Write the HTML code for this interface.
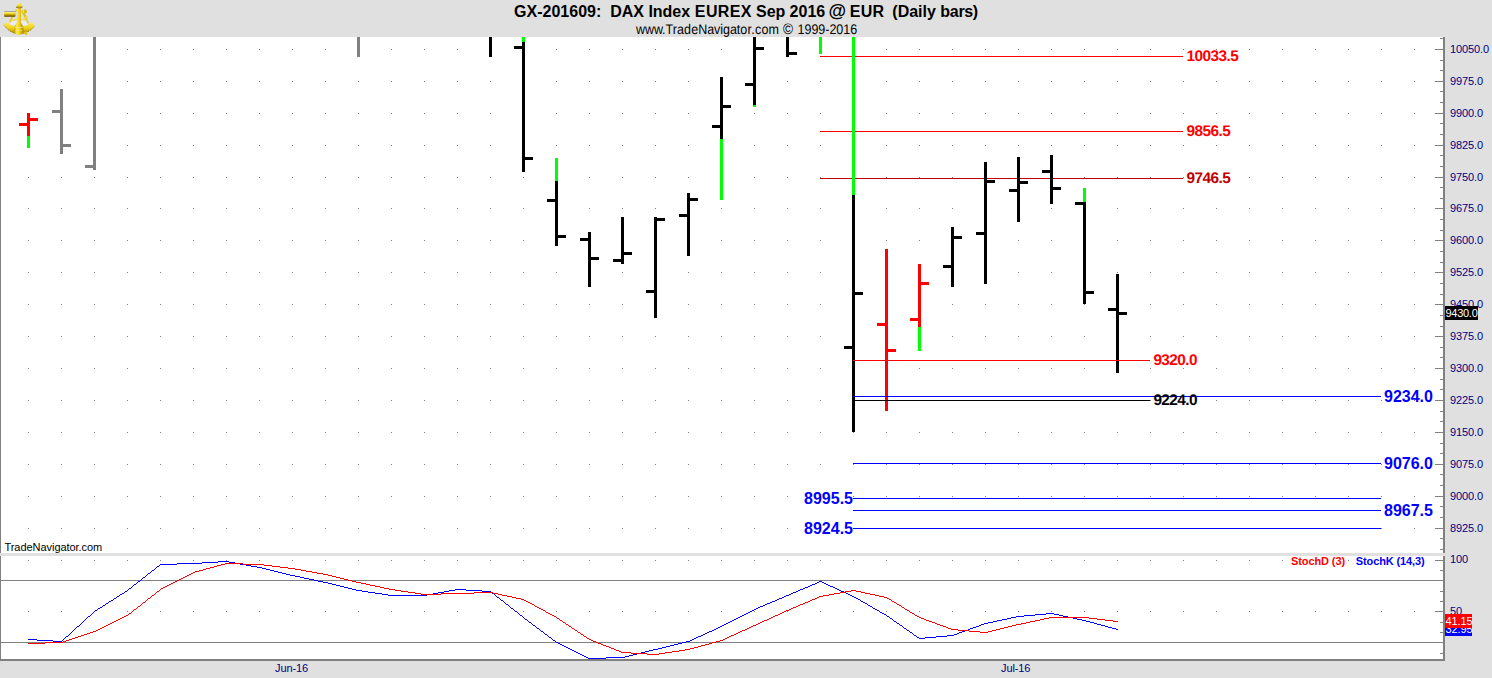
<!DOCTYPE html>
<html lang="en">
<head>
<meta charset="utf-8">
<title>GX-201609: DAX Index EUREX Sep 2016 @ EUR (Daily bars)</title>
<style>
html,body{margin:0;padding:0;background:#e0e0e0;overflow:hidden}
svg{display:block}
text{white-space:pre}
</style>
</head>
<body>
<svg width="1492" height="678" viewBox="0 0 1492 678">
<g shape-rendering="crispEdges">
<rect x="0" y="0" width="1492" height="678" fill="#e0e0e0"/>
<rect x="1" y="37" width="1442" height="516" fill="#ffffff"/>
<rect x="1" y="556" width="1442" height="103" fill="#ffffff"/>
<rect x="0" y="37" width="1" height="516" fill="#808080"/>
<rect x="0" y="556" width="1" height="105" fill="#808080"/>
<rect x="0" y="659" width="1445" height="2" fill="#808080"/>
<rect x="1443" y="37" width="2" height="516" fill="#808080"/>
<rect x="1443" y="556" width="2" height="105" fill="#808080"/>
<path fill="#808080" d="M28 49h1v1h-1zM28 81h1v1h-1zM28 113h1v1h-1zM28 145h1v1h-1zM28 177h1v1h-1zM28 208h1v1h-1zM28 240h1v1h-1zM28 272h1v1h-1zM28 304h1v1h-1zM28 336h1v1h-1zM28 368h1v1h-1zM28 400h1v1h-1zM28 432h1v1h-1zM28 464h1v1h-1zM28 496h1v1h-1zM28 528h1v1h-1zM28 560h1v1h-1zM28 611h1v1h-1zM61 49h1v1h-1zM61 81h1v1h-1zM61 113h1v1h-1zM61 145h1v1h-1zM61 177h1v1h-1zM61 208h1v1h-1zM61 240h1v1h-1zM61 272h1v1h-1zM61 304h1v1h-1zM61 336h1v1h-1zM61 368h1v1h-1zM61 400h1v1h-1zM61 432h1v1h-1zM61 464h1v1h-1zM61 496h1v1h-1zM61 528h1v1h-1zM61 560h1v1h-1zM61 611h1v1h-1zM94 49h1v1h-1zM94 81h1v1h-1zM94 113h1v1h-1zM94 145h1v1h-1zM94 177h1v1h-1zM94 208h1v1h-1zM94 240h1v1h-1zM94 272h1v1h-1zM94 304h1v1h-1zM94 336h1v1h-1zM94 368h1v1h-1zM94 400h1v1h-1zM94 432h1v1h-1zM94 464h1v1h-1zM94 496h1v1h-1zM94 528h1v1h-1zM94 560h1v1h-1zM94 611h1v1h-1zM127 49h1v1h-1zM127 81h1v1h-1zM127 113h1v1h-1zM127 145h1v1h-1zM127 177h1v1h-1zM127 208h1v1h-1zM127 240h1v1h-1zM127 272h1v1h-1zM127 304h1v1h-1zM127 336h1v1h-1zM127 368h1v1h-1zM127 400h1v1h-1zM127 432h1v1h-1zM127 464h1v1h-1zM127 496h1v1h-1zM127 528h1v1h-1zM127 560h1v1h-1zM127 611h1v1h-1zM160 49h1v1h-1zM160 81h1v1h-1zM160 113h1v1h-1zM160 145h1v1h-1zM160 177h1v1h-1zM160 208h1v1h-1zM160 240h1v1h-1zM160 272h1v1h-1zM160 304h1v1h-1zM160 336h1v1h-1zM160 368h1v1h-1zM160 400h1v1h-1zM160 432h1v1h-1zM160 464h1v1h-1zM160 496h1v1h-1zM160 528h1v1h-1zM160 560h1v1h-1zM160 611h1v1h-1zM193 49h1v1h-1zM193 81h1v1h-1zM193 113h1v1h-1zM193 145h1v1h-1zM193 177h1v1h-1zM193 208h1v1h-1zM193 240h1v1h-1zM193 272h1v1h-1zM193 304h1v1h-1zM193 336h1v1h-1zM193 368h1v1h-1zM193 400h1v1h-1zM193 432h1v1h-1zM193 464h1v1h-1zM193 496h1v1h-1zM193 528h1v1h-1zM193 560h1v1h-1zM193 611h1v1h-1zM226 49h1v1h-1zM226 81h1v1h-1zM226 113h1v1h-1zM226 145h1v1h-1zM226 177h1v1h-1zM226 208h1v1h-1zM226 240h1v1h-1zM226 272h1v1h-1zM226 304h1v1h-1zM226 336h1v1h-1zM226 368h1v1h-1zM226 400h1v1h-1zM226 432h1v1h-1zM226 464h1v1h-1zM226 496h1v1h-1zM226 528h1v1h-1zM226 560h1v1h-1zM226 611h1v1h-1zM259 49h1v1h-1zM259 81h1v1h-1zM259 113h1v1h-1zM259 145h1v1h-1zM259 177h1v1h-1zM259 208h1v1h-1zM259 240h1v1h-1zM259 272h1v1h-1zM259 304h1v1h-1zM259 336h1v1h-1zM259 368h1v1h-1zM259 400h1v1h-1zM259 432h1v1h-1zM259 464h1v1h-1zM259 496h1v1h-1zM259 528h1v1h-1zM259 560h1v1h-1zM259 611h1v1h-1zM292 49h1v1h-1zM292 81h1v1h-1zM292 113h1v1h-1zM292 145h1v1h-1zM292 177h1v1h-1zM292 208h1v1h-1zM292 240h1v1h-1zM292 272h1v1h-1zM292 304h1v1h-1zM292 336h1v1h-1zM292 368h1v1h-1zM292 400h1v1h-1zM292 432h1v1h-1zM292 464h1v1h-1zM292 496h1v1h-1zM292 528h1v1h-1zM292 560h1v1h-1zM292 611h1v1h-1zM325 49h1v1h-1zM325 81h1v1h-1zM325 113h1v1h-1zM325 145h1v1h-1zM325 177h1v1h-1zM325 208h1v1h-1zM325 240h1v1h-1zM325 272h1v1h-1zM325 304h1v1h-1zM325 336h1v1h-1zM325 368h1v1h-1zM325 400h1v1h-1zM325 432h1v1h-1zM325 464h1v1h-1zM325 496h1v1h-1zM325 528h1v1h-1zM325 560h1v1h-1zM325 611h1v1h-1zM358 49h1v1h-1zM358 81h1v1h-1zM358 113h1v1h-1zM358 145h1v1h-1zM358 177h1v1h-1zM358 208h1v1h-1zM358 240h1v1h-1zM358 272h1v1h-1zM358 304h1v1h-1zM358 336h1v1h-1zM358 368h1v1h-1zM358 400h1v1h-1zM358 432h1v1h-1zM358 464h1v1h-1zM358 496h1v1h-1zM358 528h1v1h-1zM358 560h1v1h-1zM358 611h1v1h-1zM391 49h1v1h-1zM391 81h1v1h-1zM391 113h1v1h-1zM391 145h1v1h-1zM391 177h1v1h-1zM391 208h1v1h-1zM391 240h1v1h-1zM391 272h1v1h-1zM391 304h1v1h-1zM391 336h1v1h-1zM391 368h1v1h-1zM391 400h1v1h-1zM391 432h1v1h-1zM391 464h1v1h-1zM391 496h1v1h-1zM391 528h1v1h-1zM391 560h1v1h-1zM391 611h1v1h-1zM424 49h1v1h-1zM424 81h1v1h-1zM424 113h1v1h-1zM424 145h1v1h-1zM424 177h1v1h-1zM424 208h1v1h-1zM424 240h1v1h-1zM424 272h1v1h-1zM424 304h1v1h-1zM424 336h1v1h-1zM424 368h1v1h-1zM424 400h1v1h-1zM424 432h1v1h-1zM424 464h1v1h-1zM424 496h1v1h-1zM424 528h1v1h-1zM424 560h1v1h-1zM424 611h1v1h-1zM457 49h1v1h-1zM457 81h1v1h-1zM457 113h1v1h-1zM457 145h1v1h-1zM457 177h1v1h-1zM457 208h1v1h-1zM457 240h1v1h-1zM457 272h1v1h-1zM457 304h1v1h-1zM457 336h1v1h-1zM457 368h1v1h-1zM457 400h1v1h-1zM457 432h1v1h-1zM457 464h1v1h-1zM457 496h1v1h-1zM457 528h1v1h-1zM457 560h1v1h-1zM457 611h1v1h-1zM490 49h1v1h-1zM490 81h1v1h-1zM490 113h1v1h-1zM490 145h1v1h-1zM490 177h1v1h-1zM490 208h1v1h-1zM490 240h1v1h-1zM490 272h1v1h-1zM490 304h1v1h-1zM490 336h1v1h-1zM490 368h1v1h-1zM490 400h1v1h-1zM490 432h1v1h-1zM490 464h1v1h-1zM490 496h1v1h-1zM490 528h1v1h-1zM490 560h1v1h-1zM490 611h1v1h-1zM523 49h1v1h-1zM523 81h1v1h-1zM523 113h1v1h-1zM523 145h1v1h-1zM523 177h1v1h-1zM523 208h1v1h-1zM523 240h1v1h-1zM523 272h1v1h-1zM523 304h1v1h-1zM523 336h1v1h-1zM523 368h1v1h-1zM523 400h1v1h-1zM523 432h1v1h-1zM523 464h1v1h-1zM523 496h1v1h-1zM523 528h1v1h-1zM523 560h1v1h-1zM523 611h1v1h-1zM556 49h1v1h-1zM556 81h1v1h-1zM556 113h1v1h-1zM556 145h1v1h-1zM556 177h1v1h-1zM556 208h1v1h-1zM556 240h1v1h-1zM556 272h1v1h-1zM556 304h1v1h-1zM556 336h1v1h-1zM556 368h1v1h-1zM556 400h1v1h-1zM556 432h1v1h-1zM556 464h1v1h-1zM556 496h1v1h-1zM556 528h1v1h-1zM556 560h1v1h-1zM556 611h1v1h-1zM589 49h1v1h-1zM589 81h1v1h-1zM589 113h1v1h-1zM589 145h1v1h-1zM589 177h1v1h-1zM589 208h1v1h-1zM589 240h1v1h-1zM589 272h1v1h-1zM589 304h1v1h-1zM589 336h1v1h-1zM589 368h1v1h-1zM589 400h1v1h-1zM589 432h1v1h-1zM589 464h1v1h-1zM589 496h1v1h-1zM589 528h1v1h-1zM589 560h1v1h-1zM589 611h1v1h-1zM622 49h1v1h-1zM622 81h1v1h-1zM622 113h1v1h-1zM622 145h1v1h-1zM622 177h1v1h-1zM622 208h1v1h-1zM622 240h1v1h-1zM622 272h1v1h-1zM622 304h1v1h-1zM622 336h1v1h-1zM622 368h1v1h-1zM622 400h1v1h-1zM622 432h1v1h-1zM622 464h1v1h-1zM622 496h1v1h-1zM622 528h1v1h-1zM622 560h1v1h-1zM622 611h1v1h-1zM655 49h1v1h-1zM655 81h1v1h-1zM655 113h1v1h-1zM655 145h1v1h-1zM655 177h1v1h-1zM655 208h1v1h-1zM655 240h1v1h-1zM655 272h1v1h-1zM655 304h1v1h-1zM655 336h1v1h-1zM655 368h1v1h-1zM655 400h1v1h-1zM655 432h1v1h-1zM655 464h1v1h-1zM655 496h1v1h-1zM655 528h1v1h-1zM655 560h1v1h-1zM655 611h1v1h-1zM688 49h1v1h-1zM688 81h1v1h-1zM688 113h1v1h-1zM688 145h1v1h-1zM688 177h1v1h-1zM688 208h1v1h-1zM688 240h1v1h-1zM688 272h1v1h-1zM688 304h1v1h-1zM688 336h1v1h-1zM688 368h1v1h-1zM688 400h1v1h-1zM688 432h1v1h-1zM688 464h1v1h-1zM688 496h1v1h-1zM688 528h1v1h-1zM688 560h1v1h-1zM688 611h1v1h-1zM721 49h1v1h-1zM721 81h1v1h-1zM721 113h1v1h-1zM721 145h1v1h-1zM721 177h1v1h-1zM721 208h1v1h-1zM721 240h1v1h-1zM721 272h1v1h-1zM721 304h1v1h-1zM721 336h1v1h-1zM721 368h1v1h-1zM721 400h1v1h-1zM721 432h1v1h-1zM721 464h1v1h-1zM721 496h1v1h-1zM721 528h1v1h-1zM721 560h1v1h-1zM721 611h1v1h-1zM754 49h1v1h-1zM754 81h1v1h-1zM754 113h1v1h-1zM754 145h1v1h-1zM754 177h1v1h-1zM754 208h1v1h-1zM754 240h1v1h-1zM754 272h1v1h-1zM754 304h1v1h-1zM754 336h1v1h-1zM754 368h1v1h-1zM754 400h1v1h-1zM754 432h1v1h-1zM754 464h1v1h-1zM754 496h1v1h-1zM754 528h1v1h-1zM754 560h1v1h-1zM754 611h1v1h-1zM787 49h1v1h-1zM787 81h1v1h-1zM787 113h1v1h-1zM787 145h1v1h-1zM787 177h1v1h-1zM787 208h1v1h-1zM787 240h1v1h-1zM787 272h1v1h-1zM787 304h1v1h-1zM787 336h1v1h-1zM787 368h1v1h-1zM787 400h1v1h-1zM787 432h1v1h-1zM787 464h1v1h-1zM787 496h1v1h-1zM787 528h1v1h-1zM787 560h1v1h-1zM787 611h1v1h-1zM820 49h1v1h-1zM820 81h1v1h-1zM820 113h1v1h-1zM820 145h1v1h-1zM820 177h1v1h-1zM820 208h1v1h-1zM820 240h1v1h-1zM820 272h1v1h-1zM820 304h1v1h-1zM820 336h1v1h-1zM820 368h1v1h-1zM820 400h1v1h-1zM820 432h1v1h-1zM820 464h1v1h-1zM820 496h1v1h-1zM820 528h1v1h-1zM820 560h1v1h-1zM820 611h1v1h-1zM853 49h1v1h-1zM853 81h1v1h-1zM853 113h1v1h-1zM853 145h1v1h-1zM853 177h1v1h-1zM853 208h1v1h-1zM853 240h1v1h-1zM853 272h1v1h-1zM853 304h1v1h-1zM853 336h1v1h-1zM853 368h1v1h-1zM853 400h1v1h-1zM853 432h1v1h-1zM853 464h1v1h-1zM853 496h1v1h-1zM853 528h1v1h-1zM853 560h1v1h-1zM853 611h1v1h-1zM886 49h1v1h-1zM886 81h1v1h-1zM886 113h1v1h-1zM886 145h1v1h-1zM886 177h1v1h-1zM886 208h1v1h-1zM886 240h1v1h-1zM886 272h1v1h-1zM886 304h1v1h-1zM886 336h1v1h-1zM886 368h1v1h-1zM886 400h1v1h-1zM886 432h1v1h-1zM886 464h1v1h-1zM886 496h1v1h-1zM886 528h1v1h-1zM886 560h1v1h-1zM886 611h1v1h-1zM919 49h1v1h-1zM919 81h1v1h-1zM919 113h1v1h-1zM919 145h1v1h-1zM919 177h1v1h-1zM919 208h1v1h-1zM919 240h1v1h-1zM919 272h1v1h-1zM919 304h1v1h-1zM919 336h1v1h-1zM919 368h1v1h-1zM919 400h1v1h-1zM919 432h1v1h-1zM919 464h1v1h-1zM919 496h1v1h-1zM919 528h1v1h-1zM919 560h1v1h-1zM919 611h1v1h-1zM952 49h1v1h-1zM952 81h1v1h-1zM952 113h1v1h-1zM952 145h1v1h-1zM952 177h1v1h-1zM952 208h1v1h-1zM952 240h1v1h-1zM952 272h1v1h-1zM952 304h1v1h-1zM952 336h1v1h-1zM952 368h1v1h-1zM952 400h1v1h-1zM952 432h1v1h-1zM952 464h1v1h-1zM952 496h1v1h-1zM952 528h1v1h-1zM952 560h1v1h-1zM952 611h1v1h-1zM985 49h1v1h-1zM985 81h1v1h-1zM985 113h1v1h-1zM985 145h1v1h-1zM985 177h1v1h-1zM985 208h1v1h-1zM985 240h1v1h-1zM985 272h1v1h-1zM985 304h1v1h-1zM985 336h1v1h-1zM985 368h1v1h-1zM985 400h1v1h-1zM985 432h1v1h-1zM985 464h1v1h-1zM985 496h1v1h-1zM985 528h1v1h-1zM985 560h1v1h-1zM985 611h1v1h-1zM1018 49h1v1h-1zM1018 81h1v1h-1zM1018 113h1v1h-1zM1018 145h1v1h-1zM1018 177h1v1h-1zM1018 208h1v1h-1zM1018 240h1v1h-1zM1018 272h1v1h-1zM1018 304h1v1h-1zM1018 336h1v1h-1zM1018 368h1v1h-1zM1018 400h1v1h-1zM1018 432h1v1h-1zM1018 464h1v1h-1zM1018 496h1v1h-1zM1018 528h1v1h-1zM1018 560h1v1h-1zM1018 611h1v1h-1zM1051 49h1v1h-1zM1051 81h1v1h-1zM1051 113h1v1h-1zM1051 145h1v1h-1zM1051 177h1v1h-1zM1051 208h1v1h-1zM1051 240h1v1h-1zM1051 272h1v1h-1zM1051 304h1v1h-1zM1051 336h1v1h-1zM1051 368h1v1h-1zM1051 400h1v1h-1zM1051 432h1v1h-1zM1051 464h1v1h-1zM1051 496h1v1h-1zM1051 528h1v1h-1zM1051 560h1v1h-1zM1051 611h1v1h-1zM1084 49h1v1h-1zM1084 81h1v1h-1zM1084 113h1v1h-1zM1084 145h1v1h-1zM1084 177h1v1h-1zM1084 208h1v1h-1zM1084 240h1v1h-1zM1084 272h1v1h-1zM1084 304h1v1h-1zM1084 336h1v1h-1zM1084 368h1v1h-1zM1084 400h1v1h-1zM1084 432h1v1h-1zM1084 464h1v1h-1zM1084 496h1v1h-1zM1084 528h1v1h-1zM1084 560h1v1h-1zM1084 611h1v1h-1zM1117 49h1v1h-1zM1117 81h1v1h-1zM1117 113h1v1h-1zM1117 145h1v1h-1zM1117 177h1v1h-1zM1117 208h1v1h-1zM1117 240h1v1h-1zM1117 272h1v1h-1zM1117 304h1v1h-1zM1117 336h1v1h-1zM1117 368h1v1h-1zM1117 400h1v1h-1zM1117 432h1v1h-1zM1117 464h1v1h-1zM1117 496h1v1h-1zM1117 528h1v1h-1zM1117 560h1v1h-1zM1117 611h1v1h-1zM1150 49h1v1h-1zM1150 81h1v1h-1zM1150 113h1v1h-1zM1150 145h1v1h-1zM1150 177h1v1h-1zM1150 208h1v1h-1zM1150 240h1v1h-1zM1150 272h1v1h-1zM1150 304h1v1h-1zM1150 336h1v1h-1zM1150 368h1v1h-1zM1150 400h1v1h-1zM1150 432h1v1h-1zM1150 464h1v1h-1zM1150 496h1v1h-1zM1150 528h1v1h-1zM1150 560h1v1h-1zM1150 611h1v1h-1zM1183 49h1v1h-1zM1183 81h1v1h-1zM1183 113h1v1h-1zM1183 145h1v1h-1zM1183 177h1v1h-1zM1183 208h1v1h-1zM1183 240h1v1h-1zM1183 272h1v1h-1zM1183 304h1v1h-1zM1183 336h1v1h-1zM1183 368h1v1h-1zM1183 400h1v1h-1zM1183 432h1v1h-1zM1183 464h1v1h-1zM1183 496h1v1h-1zM1183 528h1v1h-1zM1183 560h1v1h-1zM1183 611h1v1h-1zM1216 49h1v1h-1zM1216 81h1v1h-1zM1216 113h1v1h-1zM1216 145h1v1h-1zM1216 177h1v1h-1zM1216 208h1v1h-1zM1216 240h1v1h-1zM1216 272h1v1h-1zM1216 304h1v1h-1zM1216 336h1v1h-1zM1216 368h1v1h-1zM1216 400h1v1h-1zM1216 432h1v1h-1zM1216 464h1v1h-1zM1216 496h1v1h-1zM1216 528h1v1h-1zM1216 560h1v1h-1zM1216 611h1v1h-1zM1249 49h1v1h-1zM1249 81h1v1h-1zM1249 113h1v1h-1zM1249 145h1v1h-1zM1249 177h1v1h-1zM1249 208h1v1h-1zM1249 240h1v1h-1zM1249 272h1v1h-1zM1249 304h1v1h-1zM1249 336h1v1h-1zM1249 368h1v1h-1zM1249 400h1v1h-1zM1249 432h1v1h-1zM1249 464h1v1h-1zM1249 496h1v1h-1zM1249 528h1v1h-1zM1249 560h1v1h-1zM1249 611h1v1h-1zM1282 49h1v1h-1zM1282 81h1v1h-1zM1282 113h1v1h-1zM1282 145h1v1h-1zM1282 177h1v1h-1zM1282 208h1v1h-1zM1282 240h1v1h-1zM1282 272h1v1h-1zM1282 304h1v1h-1zM1282 336h1v1h-1zM1282 368h1v1h-1zM1282 400h1v1h-1zM1282 432h1v1h-1zM1282 464h1v1h-1zM1282 496h1v1h-1zM1282 528h1v1h-1zM1282 560h1v1h-1zM1282 611h1v1h-1zM1315 49h1v1h-1zM1315 81h1v1h-1zM1315 113h1v1h-1zM1315 145h1v1h-1zM1315 177h1v1h-1zM1315 208h1v1h-1zM1315 240h1v1h-1zM1315 272h1v1h-1zM1315 304h1v1h-1zM1315 336h1v1h-1zM1315 368h1v1h-1zM1315 400h1v1h-1zM1315 432h1v1h-1zM1315 464h1v1h-1zM1315 496h1v1h-1zM1315 528h1v1h-1zM1315 560h1v1h-1zM1315 611h1v1h-1zM1348 49h1v1h-1zM1348 81h1v1h-1zM1348 113h1v1h-1zM1348 145h1v1h-1zM1348 177h1v1h-1zM1348 208h1v1h-1zM1348 240h1v1h-1zM1348 272h1v1h-1zM1348 304h1v1h-1zM1348 336h1v1h-1zM1348 368h1v1h-1zM1348 400h1v1h-1zM1348 432h1v1h-1zM1348 464h1v1h-1zM1348 496h1v1h-1zM1348 528h1v1h-1zM1348 560h1v1h-1zM1348 611h1v1h-1zM1381 49h1v1h-1zM1381 81h1v1h-1zM1381 113h1v1h-1zM1381 145h1v1h-1zM1381 177h1v1h-1zM1381 208h1v1h-1zM1381 240h1v1h-1zM1381 272h1v1h-1zM1381 304h1v1h-1zM1381 336h1v1h-1zM1381 368h1v1h-1zM1381 400h1v1h-1zM1381 432h1v1h-1zM1381 464h1v1h-1zM1381 496h1v1h-1zM1381 528h1v1h-1zM1381 560h1v1h-1zM1381 611h1v1h-1zM1414 49h1v1h-1zM1414 81h1v1h-1zM1414 113h1v1h-1zM1414 145h1v1h-1zM1414 177h1v1h-1zM1414 208h1v1h-1zM1414 240h1v1h-1zM1414 272h1v1h-1zM1414 304h1v1h-1zM1414 336h1v1h-1zM1414 368h1v1h-1zM1414 400h1v1h-1zM1414 432h1v1h-1zM1414 464h1v1h-1zM1414 496h1v1h-1zM1414 528h1v1h-1zM1414 560h1v1h-1zM1414 611h1v1h-1z"/>
<rect x="1" y="580" width="1442" height="1" fill="#808080"/>
<rect x="1" y="642" width="1442" height="1" fill="#808080"/>
<path fill="#808080" d="M1440 38h3v1h-3zM1435 49h8v1h-8zM1440 60h3v1h-3zM1440 70h3v1h-3zM1435 81h8v1h-8zM1440 91h3v1h-3zM1440 102h3v1h-3zM1435 113h8v1h-8zM1440 123h3v1h-3zM1440 134h3v1h-3zM1435 145h8v1h-8zM1440 155h3v1h-3zM1440 166h3v1h-3zM1435 177h8v1h-8zM1440 187h3v1h-3zM1440 198h3v1h-3zM1435 208h8v1h-8zM1440 219h3v1h-3zM1440 230h3v1h-3zM1435 240h8v1h-8zM1440 251h3v1h-3zM1440 262h3v1h-3zM1435 272h8v1h-8zM1440 283h3v1h-3zM1440 294h3v1h-3zM1435 304h8v1h-8zM1440 315h3v1h-3zM1440 326h3v1h-3zM1435 336h8v1h-8zM1440 347h3v1h-3zM1440 357h3v1h-3zM1435 368h8v1h-8zM1440 379h3v1h-3zM1440 389h3v1h-3zM1435 400h8v1h-8zM1440 411h3v1h-3zM1440 421h3v1h-3zM1435 432h8v1h-8zM1440 443h3v1h-3zM1440 453h3v1h-3zM1435 464h8v1h-8zM1440 474h3v1h-3zM1440 485h3v1h-3zM1435 496h8v1h-8zM1440 506h3v1h-3zM1440 517h3v1h-3zM1435 528h8v1h-8zM1440 538h3v1h-3zM1440 549h3v1h-3zM1435 560h8v1h-8zM1440 570h3v1h-3zM1440 580h3v1h-3zM1440 591h3v1h-3zM1440 601h3v1h-3zM1435 611h8v1h-8zM1440 622h3v1h-3zM1440 632h3v1h-3zM1440 642h3v1h-3zM1440 653h3v1h-3z"/>
<rect x="820" y="56" width="363" height="1" fill="#ff0000"/>
<rect x="820" y="131" width="363" height="1" fill="#ff0000"/>
<rect x="820" y="178" width="363" height="1" fill="#c00000"/>
<path fill="#808080" d="M60 89h3v65h-3zM52 110h8v3h-8zM63 144h8v3h-8zM93 37h3v133h-3zM85 165h8v3h-8zM357 37h3v20h-3z"/>
<path fill="#000000" d="M489 37h3v20h-3zM522 42h3v130h-3zM514 46h8v3h-8zM525 157h8v3h-8zM555 181h3v65h-3zM547 199h8v3h-8zM558 235h8v3h-8zM588 232h3v55h-3zM580 238h8v3h-8zM591 257h8v3h-8zM621 217h3v47h-3zM613 259h8v3h-8zM624 252h8v3h-8zM654 217h3v101h-3zM646 290h8v3h-8zM657 218h8v3h-8zM687 193h3v63h-3zM679 214h8v3h-8zM690 198h8v3h-8zM720 77h3v62h-3zM712 125h8v3h-8zM723 105h8v3h-8zM753 37h3v68h-3zM745 83h8v3h-8zM756 47h8v3h-8zM786 37h3v20h-3zM789 52h8v3h-8zM852 195h3v237h-3zM844 346h8v3h-8zM855 292h8v3h-8zM951 227h3v60h-3zM943 265h8v3h-8zM954 236h8v3h-8zM984 162h3v122h-3zM976 232h8v3h-8zM987 180h8v3h-8zM1017 157h3v65h-3zM1009 189h8v3h-8zM1020 181h8v3h-8zM1050 155h3v49h-3zM1042 170h8v3h-8zM1053 187h8v3h-8zM1083 202h3v102h-3zM1075 202h8v3h-8zM1086 291h8v3h-8zM1116 274h3v99h-3zM1108 308h8v3h-8zM1119 312h8v3h-8z"/>
<path fill="#00ff00" d="M27 136h3v12h-3zM522 37h3v5h-3zM555 158h3v23h-3zM720 139h3v61h-3zM753 105h3v2h-3zM819 37h3v17h-3zM852 37h3v158h-3zM918 327h3v24h-3zM1083 188h3v14h-3z"/>
<path fill="#ff0000" d="M27 113h3v23h-3zM19 123h8v3h-8zM30 118h8v3h-8zM885 249h3v162h-3zM877 323h8v3h-8zM888 349h8v3h-8zM918 264h3v63h-3zM910 318h8v3h-8zM921 282h8v3h-8z"/>
<rect x="853" y="360" width="297" height="1" fill="#ff0000"/>
<rect x="853" y="396" width="528" height="1" fill="#0000ff"/>
<rect x="853" y="400" width="297" height="1" fill="#000000"/>
<rect x="853" y="463" width="528" height="1" fill="#0000ff"/>
<rect x="853" y="498" width="528" height="1" fill="#0000ff"/>
<rect x="853" y="510" width="528" height="1" fill="#0000ff"/>
<rect x="853" y="528" width="528" height="1" fill="#0000ff"/>
<path fill="#0000ff" d="M28 639h9v1h-9zM37 640h16v1h-16zM53 641h9v1h-9zM62 640h1v1h-1zM63 639h1v1h-1zM64 638h1v1h-1zM65 637h1v1h-1zM66 636h2v1h-2zM68 635h1v1h-1zM69 634h1v1h-1zM70 633h1v1h-1zM71 632h1v1h-1zM72 631h1v1h-1zM73 630h1v1h-1zM74 629h1v1h-1zM75 628h1v1h-1zM76 627h1v1h-1zM77 626h2v1h-2zM79 625h1v1h-1zM80 624h1v1h-1zM81 623h1v1h-1zM82 622h1v1h-1zM83 621h1v1h-1zM84 620h1v1h-1zM85 619h1v1h-1zM86 618h1v1h-1zM87 617h1v1h-1zM88 616h2v1h-2zM90 615h1v1h-1zM91 614h1v1h-1zM92 613h1v1h-1zM93 612h1v1h-1zM94 611h1v1h-1zM95 610h2v1h-2zM97 609h1v1h-1zM98 608h2v1h-2zM100 607h2v1h-2zM102 606h1v1h-1zM103 605h2v1h-2zM105 604h1v1h-1zM106 603h2v1h-2zM108 602h1v1h-1zM109 601h2v1h-2zM111 600h2v1h-2zM113 599h1v1h-1zM114 598h2v1h-2zM116 597h1v1h-1zM117 596h2v1h-2zM119 595h1v1h-1zM120 594h2v1h-2zM122 593h2v1h-2zM124 592h1v1h-1zM125 591h2v1h-2zM127 590h1v1h-1zM128 589h1v1h-1zM129 588h2v1h-2zM131 587h1v1h-1zM132 586h1v1h-1zM133 585h1v1h-1zM134 584h2v1h-2zM136 583h1v1h-1zM137 582h1v1h-1zM138 581h2v1h-2zM140 580h1v1h-1zM141 579h1v1h-1zM142 578h1v1h-1zM143 577h2v1h-2zM145 576h1v1h-1zM146 575h1v1h-1zM147 574h1v1h-1zM148 573h2v1h-2zM150 572h1v1h-1zM151 571h1v1h-1zM152 570h2v1h-2zM154 569h1v1h-1zM155 568h1v1h-1zM156 567h1v1h-1zM157 566h2v1h-2zM159 565h1v1h-1zM160 564h17v1h-17zM177 563h25v1h-25zM202 562h16v1h-16zM218 561h11v1h-11zM229 562h6v1h-6zM235 563h5v1h-5zM240 564h6v1h-6zM246 565h5v1h-5zM251 566h6v1h-6zM257 567h5v1h-5zM262 568h4v1h-4zM266 569h4v1h-4zM270 570h4v1h-4zM274 571h4v1h-4zM278 572h4v1h-4zM282 573h4v1h-4zM286 574h4v1h-4zM290 575h5v1h-5zM295 576h5v1h-5zM300 577h4v1h-4zM304 578h5v1h-5zM309 579h5v1h-5zM314 580h4v1h-4zM318 581h5v1h-5zM323 582h5v1h-5zM328 583h4v1h-4zM332 584h4v1h-4zM336 585h4v1h-4zM340 586h4v1h-4zM344 587h4v1h-4zM348 588h4v1h-4zM352 589h4v1h-4zM356 590h6v1h-6zM362 591h6v1h-6zM368 592h7v1h-7zM375 593h7v1h-7zM382 594h6v1h-6zM388 595h39v1h-39zM427 594h6v1h-6zM433 593h5v1h-5zM438 592h6v1h-6zM444 591h5v1h-5zM449 590h6v1h-6zM455 589h11v1h-11zM466 590h16v1h-16zM482 591h9v1h-9zM491 592h1v1h-1zM492 593h2v1h-2zM494 594h1v1h-1zM495 595h1v1h-1zM496 596h1v1h-1zM497 597h2v1h-2zM499 598h1v1h-1zM500 599h1v1h-1zM501 600h2v1h-2zM503 601h1v1h-1zM504 602h1v1h-1zM505 603h1v1h-1zM506 604h2v1h-2zM508 605h1v1h-1zM509 606h1v1h-1zM510 607h1v1h-1zM511 608h2v1h-2zM513 609h1v1h-1zM514 610h1v1h-1zM515 611h2v1h-2zM517 612h1v1h-1zM518 613h1v1h-1zM519 614h1v1h-1zM520 615h2v1h-2zM522 616h1v1h-1zM523 617h1v1h-1zM524 618h1v1h-1zM525 619h2v1h-2zM527 620h1v1h-1zM528 621h1v1h-1zM529 622h2v1h-2zM531 623h1v1h-1zM532 624h1v1h-1zM533 625h2v1h-2zM535 626h1v1h-1zM536 627h1v1h-1zM537 628h2v1h-2zM539 629h1v1h-1zM540 630h1v1h-1zM541 631h2v1h-2zM543 632h1v1h-1zM544 633h1v1h-1zM545 634h2v1h-2zM547 635h1v1h-1zM548 636h1v1h-1zM549 637h2v1h-2zM551 638h1v1h-1zM552 639h1v1h-1zM553 640h2v1h-2zM555 641h1v1h-1zM556 642h2v1h-2zM558 643h2v1h-2zM560 644h2v1h-2zM562 645h2v1h-2zM564 646h2v1h-2zM566 647h2v1h-2zM568 648h2v1h-2zM570 649h2v1h-2zM572 650h2v1h-2zM574 651h2v1h-2zM576 652h2v1h-2zM578 653h2v1h-2zM580 654h2v1h-2zM582 655h2v1h-2zM584 656h2v1h-2zM586 657h2v1h-2zM588 658h18v1h-18zM606 657h19v1h-19zM625 656h4v1h-4zM629 655h4v1h-4zM633 654h4v1h-4zM637 653h4v1h-4zM641 652h4v1h-4zM645 651h4v1h-4zM649 650h4v1h-4zM653 649h5v1h-5zM658 648h4v1h-4zM662 647h4v1h-4zM666 646h4v1h-4zM670 645h4v1h-4zM674 644h4v1h-4zM678 643h4v1h-4zM682 642h4v1h-4zM686 641h4v1h-4zM690 640h2v1h-2zM692 639h2v1h-2zM694 638h2v1h-2zM696 637h2v1h-2zM698 636h3v1h-3zM701 635h2v1h-2zM703 634h2v1h-2zM705 633h2v1h-2zM707 632h2v1h-2zM709 631h3v1h-3zM712 630h2v1h-2zM714 629h2v1h-2zM716 628h2v1h-2zM718 627h2v1h-2zM720 626h2v1h-2zM722 625h2v1h-2zM724 624h2v1h-2zM726 623h2v1h-2zM728 622h2v1h-2zM730 621h2v1h-2zM732 620h2v1h-2zM734 619h2v1h-2zM736 618h2v1h-2zM738 617h2v1h-2zM740 616h2v1h-2zM742 615h2v1h-2zM744 614h2v1h-2zM746 613h2v1h-2zM748 612h2v1h-2zM750 611h2v1h-2zM752 610h2v1h-2zM754 609h2v1h-2zM756 608h2v1h-2zM758 607h2v1h-2zM760 606h3v1h-3zM763 605h2v1h-2zM765 604h2v1h-2zM767 603h3v1h-3zM770 602h2v1h-2zM772 601h3v1h-3zM775 600h2v1h-2zM777 599h2v1h-2zM779 598h3v1h-3zM782 597h2v1h-2zM784 596h2v1h-2zM786 595h3v1h-3zM789 594h2v1h-2zM791 593h2v1h-2zM793 592h3v1h-3zM796 591h2v1h-2zM798 590h2v1h-2zM800 589h3v1h-3zM803 588h2v1h-2zM805 587h3v1h-3zM808 586h2v1h-2zM810 585h2v1h-2zM812 584h3v1h-3zM815 583h2v1h-2zM817 582h2v1h-2zM819 581h3v1h-3zM822 582h2v1h-2zM824 583h2v1h-2zM826 584h2v1h-2zM828 585h2v1h-2zM830 586h3v1h-3zM833 587h2v1h-2zM835 588h2v1h-2zM837 589h2v1h-2zM839 590h2v1h-2zM841 591h3v1h-3zM844 592h2v1h-2zM846 593h2v1h-2zM848 594h2v1h-2zM850 595h2v1h-2zM852 596h2v1h-2zM854 597h2v1h-2zM856 598h2v1h-2zM858 599h2v1h-2zM860 600h1v1h-1zM861 601h2v1h-2zM863 602h2v1h-2zM865 603h2v1h-2zM867 604h1v1h-1zM868 605h2v1h-2zM870 606h2v1h-2zM872 607h1v1h-1zM873 608h2v1h-2zM875 609h2v1h-2zM877 610h2v1h-2zM879 611h1v1h-1zM880 612h2v1h-2zM882 613h2v1h-2zM884 614h2v1h-2zM886 615h1v1h-1zM887 616h2v1h-2zM889 617h1v1h-1zM890 618h2v1h-2zM892 619h1v1h-1zM893 620h1v1h-1zM894 621h2v1h-2zM896 622h1v1h-1zM897 623h2v1h-2zM899 624h1v1h-1zM900 625h2v1h-2zM902 626h1v1h-1zM903 627h1v1h-1zM904 628h2v1h-2zM906 629h1v1h-1zM907 630h2v1h-2zM909 631h1v1h-1zM910 632h2v1h-2zM912 633h1v1h-1zM913 634h1v1h-1zM914 635h2v1h-2zM916 636h1v1h-1zM917 637h2v1h-2zM919 638h6v1h-6zM925 637h11v1h-11zM936 636h11v1h-11zM947 635h7v1h-7zM954 634h3v1h-3zM957 633h2v1h-2zM959 632h3v1h-3zM962 631h3v1h-3zM965 630h3v1h-3zM968 629h2v1h-2zM970 628h3v1h-3zM973 627h3v1h-3zM976 626h3v1h-3zM979 625h2v1h-2zM981 624h3v1h-3zM984 623h4v1h-4zM988 622h5v1h-5zM993 621h4v1h-4zM997 620h5v1h-5zM1002 619h5v1h-5zM1007 618h4v1h-4zM1011 617h5v1h-5zM1016 616h8v1h-8zM1024 615h11v1h-11zM1035 614h11v1h-11zM1046 613h8v1h-8zM1054 614h5v1h-5zM1059 615h4v1h-4zM1063 616h5v1h-5zM1068 617h5v1h-5zM1073 618h4v1h-4zM1077 619h5v1h-5zM1082 620h4v1h-4zM1086 621h4v1h-4zM1090 622h4v1h-4zM1094 623h3v1h-3zM1097 624h4v1h-4zM1101 625h4v1h-4zM1105 626h3v1h-3zM1108 627h4v1h-4zM1112 628h4v1h-4zM1116 629h2v1h-2z"/>
<path fill="#ff0000" d="M28 643h17v1h-17zM45 642h18v1h-18zM63 641h3v1h-3zM66 640h3v1h-3zM69 639h3v1h-3zM72 638h3v1h-3zM75 637h3v1h-3zM78 636h3v1h-3zM81 635h3v1h-3zM84 634h3v1h-3zM87 633h3v1h-3zM90 632h3v1h-3zM93 631h3v1h-3zM96 630h2v1h-2zM98 629h2v1h-2zM100 628h2v1h-2zM102 627h2v1h-2zM104 626h2v1h-2zM106 625h2v1h-2zM108 624h2v1h-2zM110 623h2v1h-2zM112 622h2v1h-2zM114 621h2v1h-2zM116 620h2v1h-2zM118 619h2v1h-2zM120 618h2v1h-2zM122 617h2v1h-2zM124 616h2v1h-2zM126 615h2v1h-2zM128 614h1v1h-1zM129 613h2v1h-2zM131 612h1v1h-1zM132 611h1v1h-1zM133 610h1v1h-1zM134 609h2v1h-2zM136 608h1v1h-1zM137 607h1v1h-1zM138 606h2v1h-2zM140 605h1v1h-1zM141 604h1v1h-1zM142 603h1v1h-1zM143 602h2v1h-2zM145 601h1v1h-1zM146 600h1v1h-1zM147 599h1v1h-1zM148 598h2v1h-2zM150 597h1v1h-1zM151 596h1v1h-1zM152 595h2v1h-2zM154 594h1v1h-1zM155 593h1v1h-1zM156 592h1v1h-1zM157 591h2v1h-2zM159 590h1v1h-1zM160 589h1v1h-1zM161 588h2v1h-2zM163 587h2v1h-2zM165 586h2v1h-2zM167 585h2v1h-2zM169 584h2v1h-2zM171 583h2v1h-2zM173 582h2v1h-2zM175 581h2v1h-2zM177 580h2v1h-2zM179 579h2v1h-2zM181 578h2v1h-2zM183 577h2v1h-2zM185 576h2v1h-2zM187 575h2v1h-2zM189 574h2v1h-2zM191 573h2v1h-2zM193 572h2v1h-2zM195 571h4v1h-4zM199 570h4v1h-4zM203 569h3v1h-3zM206 568h4v1h-4zM210 567h4v1h-4zM214 566h3v1h-3zM217 565h4v1h-4zM221 564h4v1h-4zM225 563h18v1h-18zM243 564h21v1h-21zM264 565h8v1h-8zM272 566h8v1h-8zM280 567h8v1h-8zM288 568h7v1h-7zM295 569h6v1h-6zM301 570h5v1h-5zM306 571h6v1h-6zM312 572h5v1h-5zM317 573h6v1h-6zM323 574h5v1h-5zM328 575h4v1h-4zM332 576h4v1h-4zM336 577h4v1h-4zM340 578h4v1h-4zM344 579h4v1h-4zM348 580h4v1h-4zM352 581h4v1h-4zM356 582h5v1h-5zM361 583h5v1h-5zM366 584h4v1h-4zM370 585h5v1h-5zM375 586h5v1h-5zM380 587h4v1h-4zM384 588h5v1h-5zM389 589h6v1h-6zM395 590h6v1h-6zM401 591h7v1h-7zM408 592h7v1h-7zM415 593h6v1h-6zM421 594h20v1h-20zM441 593h33v1h-33zM474 592h19v1h-19zM493 593h5v1h-5zM498 594h4v1h-4zM502 595h5v1h-5zM507 596h5v1h-5zM512 597h4v1h-4zM516 598h5v1h-5zM521 599h3v1h-3zM524 600h2v1h-2zM526 601h2v1h-2zM528 602h2v1h-2zM530 603h2v1h-2zM532 604h2v1h-2zM534 605h1v1h-1zM535 606h2v1h-2zM537 607h2v1h-2zM539 608h2v1h-2zM541 609h2v1h-2zM543 610h2v1h-2zM545 611h1v1h-1zM546 612h2v1h-2zM548 613h2v1h-2zM550 614h2v1h-2zM552 615h2v1h-2zM554 616h2v1h-2zM556 617h1v1h-1zM557 618h2v1h-2zM559 619h1v1h-1zM560 620h2v1h-2zM562 621h1v1h-1zM563 622h2v1h-2zM565 623h1v1h-1zM566 624h2v1h-2zM568 625h1v1h-1zM569 626h2v1h-2zM571 627h1v1h-1zM572 628h2v1h-2zM574 629h1v1h-1zM575 630h2v1h-2zM577 631h1v1h-1zM578 632h2v1h-2zM580 633h1v1h-1zM581 634h2v1h-2zM583 635h1v1h-1zM584 636h2v1h-2zM586 637h1v1h-1zM587 638h2v1h-2zM589 639h2v1h-2zM591 640h2v1h-2zM593 641h3v1h-3zM596 642h2v1h-2zM598 643h3v1h-3zM601 644h2v1h-2zM603 645h3v1h-3zM606 646h3v1h-3zM609 647h2v1h-2zM611 648h3v1h-3zM614 649h2v1h-2zM616 650h3v1h-3zM619 651h2v1h-2zM621 652h10v1h-10zM631 653h16v1h-16zM647 654h12v1h-12zM659 653h6v1h-6zM665 652h7v1h-7zM672 651h7v1h-7zM679 650h6v1h-6zM685 649h5v1h-5zM690 648h4v1h-4zM694 647h4v1h-4zM698 646h3v1h-3zM701 645h4v1h-4zM705 644h4v1h-4zM709 643h3v1h-3zM712 642h4v1h-4zM716 641h4v1h-4zM720 640h3v1h-3zM723 639h2v1h-2zM725 638h2v1h-2zM727 637h2v1h-2zM729 636h2v1h-2zM731 635h3v1h-3zM734 634h2v1h-2zM736 633h2v1h-2zM738 632h2v1h-2zM740 631h2v1h-2zM742 630h3v1h-3zM745 629h2v1h-2zM747 628h2v1h-2zM749 627h2v1h-2zM751 626h2v1h-2zM753 625h3v1h-3zM756 624h2v1h-2zM758 623h2v1h-2zM760 622h2v1h-2zM762 621h2v1h-2zM764 620h3v1h-3zM767 619h2v1h-2zM769 618h2v1h-2zM771 617h2v1h-2zM773 616h2v1h-2zM775 615h3v1h-3zM778 614h2v1h-2zM780 613h2v1h-2zM782 612h2v1h-2zM784 611h2v1h-2zM786 610h3v1h-3zM789 609h2v1h-2zM791 608h2v1h-2zM793 607h3v1h-3zM796 606h2v1h-2zM798 605h2v1h-2zM800 604h3v1h-3zM803 603h2v1h-2zM805 602h3v1h-3zM808 601h2v1h-2zM810 600h2v1h-2zM812 599h3v1h-3zM815 598h2v1h-2zM817 597h2v1h-2zM819 596h4v1h-4zM823 595h6v1h-6zM829 594h5v1h-5zM834 593h6v1h-6zM840 592h5v1h-5zM845 591h6v1h-6zM851 590h5v1h-5zM856 591h5v1h-5zM861 592h4v1h-4zM865 593h5v1h-5zM870 594h5v1h-5zM875 595h4v1h-4zM879 596h5v1h-5zM884 597h3v1h-3zM887 598h2v1h-2zM889 599h2v1h-2zM891 600h1v1h-1zM892 601h2v1h-2zM894 602h2v1h-2zM896 603h1v1h-1zM897 604h2v1h-2zM899 605h2v1h-2zM901 606h1v1h-1zM902 607h2v1h-2zM904 608h1v1h-1zM905 609h2v1h-2zM907 610h2v1h-2zM909 611h1v1h-1zM910 612h2v1h-2zM912 613h2v1h-2zM914 614h1v1h-1zM915 615h2v1h-2zM917 616h2v1h-2zM919 617h2v1h-2zM921 618h3v1h-3zM924 619h2v1h-2zM926 620h3v1h-3zM929 621h3v1h-3zM932 622h3v1h-3zM935 623h2v1h-2zM937 624h3v1h-3zM940 625h3v1h-3zM943 626h3v1h-3zM946 627h2v1h-2zM948 628h3v1h-3zM951 629h7v1h-7zM958 630h11v1h-11zM969 631h11v1h-11zM980 632h8v1h-8zM988 631h4v1h-4zM992 630h4v1h-4zM996 629h4v1h-4zM1000 628h4v1h-4zM1004 627h4v1h-4zM1008 626h4v1h-4zM1012 625h4v1h-4zM1016 624h5v1h-5zM1021 623h5v1h-5zM1026 622h4v1h-4zM1030 621h5v1h-5zM1035 620h5v1h-5zM1040 619h4v1h-4zM1044 618h5v1h-5zM1049 617h40v1h-40zM1089 618h8v1h-8zM1097 619h8v1h-8zM1105 620h8v1h-8zM1113 621h5v1h-5z"/>
<rect x="1445" y="306" width="33" height="14" fill="#000000"/>
<rect x="1445" y="622" width="27" height="14" fill="#0000ff"/>
<rect x="1445" y="614" width="27" height="14" fill="#ff0000"/>
</g>
<g font-family="'Liberation Sans', sans-serif">
<text y="17" font-size="16" font-weight="bold" fill="#000000"><tspan x="514.1">GX-201609:&#160; DAX Index </tspan><tspan x="694.85" letter-spacing="0.36">EUREX </tspan><tspan x="756.0">Sep </tspan><tspan x="789.6">2016 </tspan><tspan x="828.6" y="16.7" font-size="18">@ </tspan><tspan x="849.65" y="17" letter-spacing="0.37">EUR&#160; </tspan><tspan x="892.3">(Daily </tspan><tspan x="940.35" letter-spacing="-0.32">bars)</tspan></text>
<text transform="translate(636,34) scale(0.894,1)" font-size="14" fill="#000000" text-rendering="geometricPrecision"><tspan x="0.00" y="0" letter-spacing="-0.113">www.</tspan><tspan x="33.00" y="0" letter-spacing="0.104">Trade</tspan><tspan x="69.57" y="0" letter-spacing="-0.054">Navigat</tspan><tspan x="116.67" y="0" letter-spacing="0.264">or.com </tspan><tspan x="164.43" y="0" letter-spacing="0.72" font-size="15.2">© </tspan><tspan x="180.76" y="0" letter-spacing="-0.045">1999-2016</tspan></text>
<text x="4.5" y="551" font-size="11" fill="#000000" font-weight="normal" text-anchor="start" letter-spacing="-0.05">TradeNavigator.com</text>
<text x="1450" y="53" font-size="11" fill="#000080" font-weight="normal" text-anchor="start" letter-spacing="-0.12">10050.0</text>
<text x="1450" y="85" font-size="11" fill="#000080" font-weight="normal" text-anchor="start" letter-spacing="-0.12">9975.0</text>
<text x="1450" y="117" font-size="11" fill="#000080" font-weight="normal" text-anchor="start" letter-spacing="-0.12">9900.0</text>
<text x="1450" y="149" font-size="11" fill="#000080" font-weight="normal" text-anchor="start" letter-spacing="-0.12">9825.0</text>
<text x="1450" y="181" font-size="11" fill="#000080" font-weight="normal" text-anchor="start" letter-spacing="-0.12">9750.0</text>
<text x="1450" y="212" font-size="11" fill="#000080" font-weight="normal" text-anchor="start" letter-spacing="-0.12">9675.0</text>
<text x="1450" y="244" font-size="11" fill="#000080" font-weight="normal" text-anchor="start" letter-spacing="-0.12">9600.0</text>
<text x="1450" y="276" font-size="11" fill="#000080" font-weight="normal" text-anchor="start" letter-spacing="-0.12">9525.0</text>
<text x="1450" y="308" font-size="11" fill="#000080" font-weight="normal" text-anchor="start" letter-spacing="-0.12">9450.0</text>
<text x="1450" y="340" font-size="11" fill="#000080" font-weight="normal" text-anchor="start" letter-spacing="-0.12">9375.0</text>
<text x="1450" y="372" font-size="11" fill="#000080" font-weight="normal" text-anchor="start" letter-spacing="-0.12">9300.0</text>
<text x="1450" y="404" font-size="11" fill="#000080" font-weight="normal" text-anchor="start" letter-spacing="-0.12">9225.0</text>
<text x="1450" y="436" font-size="11" fill="#000080" font-weight="normal" text-anchor="start" letter-spacing="-0.12">9150.0</text>
<text x="1450" y="468" font-size="11" fill="#000080" font-weight="normal" text-anchor="start" letter-spacing="-0.12">9075.0</text>
<text x="1450" y="500" font-size="11" fill="#000080" font-weight="normal" text-anchor="start" letter-spacing="-0.12">9000.0</text>
<text x="1450" y="532" font-size="11" fill="#000080" font-weight="normal" text-anchor="start" letter-spacing="-0.12">8925.0</text>
<text x="1450" y="563" font-size="11" fill="#000080" font-weight="normal" text-anchor="start" letter-spacing="-0.12">100</text>
<text x="1450" y="615" font-size="11" fill="#000080" font-weight="normal" text-anchor="start" letter-spacing="-0.12">50</text>
</g>
<g shape-rendering="crispEdges">
<rect x="1445" y="306" width="33" height="14" fill="#000000"/>
<rect x="1445" y="622" width="27" height="14" fill="#0000ff"/>
</g>
<g font-family="'Liberation Sans', sans-serif">
<text x="1445.4" y="317" font-size="11" fill="#ffffff" font-weight="normal" text-anchor="start" letter-spacing="-0.25">9430.0</text>
<text x="1445.5" y="633" font-size="11" fill="#ffffff" font-weight="normal" text-anchor="start" letter-spacing="-0.12">32.95</text>
</g>
<g shape-rendering="crispEdges">
<rect x="1445" y="614" width="27" height="14" fill="#ff0000"/>
</g>
<g font-family="'Liberation Sans', sans-serif">
<text x="1445.5" y="625" font-size="11" fill="#ffffff" font-weight="normal" text-anchor="start" letter-spacing="-0.12">41.15</text>
<text x="275" y="672" font-size="11" fill="#000080" font-weight="normal" text-anchor="start" letter-spacing="-0.1">Jun-16</text>
<text x="1001" y="672" font-size="11" fill="#000080" font-weight="normal" text-anchor="start" letter-spacing="-0.1">Jul-16</text>
<text x="1186.6" y="61" font-size="15.4" fill="#ff0000" font-weight="bold" text-anchor="start" letter-spacing="-0.58" text-rendering="geometricPrecision">10033.5</text>
<text x="1186.6" y="136" font-size="15.4" fill="#ff0000" font-weight="bold" text-anchor="start" letter-spacing="-0.58" text-rendering="geometricPrecision">9856.5</text>
<text x="1186.6" y="183" font-size="15.4" fill="#c00000" font-weight="bold" text-anchor="start" letter-spacing="-0.58" text-rendering="geometricPrecision">9746.5</text>
<text x="1153.4" y="365" font-size="15.4" fill="#ff0000" font-weight="bold" text-anchor="start" letter-spacing="-0.58" text-rendering="geometricPrecision">9320.0</text>
<text x="1153.4" y="405" font-size="15.4" fill="#000000" font-weight="bold" text-anchor="start" letter-spacing="-0.58" text-rendering="geometricPrecision">9224.0</text>
<text x="1384" y="402" font-size="16" fill="#0000ff" font-weight="bold" text-anchor="start">9234.0</text>
<text x="1384" y="469" font-size="16" fill="#0000ff" font-weight="bold" text-anchor="start">9076.0</text>
<text x="1384" y="516" font-size="16" fill="#0000ff" font-weight="bold" text-anchor="start">8967.5</text>
<text x="853" y="504" font-size="16" fill="#0000ff" font-weight="bold" text-anchor="end">8995.5</text>
<text x="853" y="534" font-size="16" fill="#0000ff" font-weight="bold" text-anchor="end">8924.5</text>
<text x="1291" y="565" font-size="11" fill="#ff0000" font-weight="bold" text-anchor="start" letter-spacing="-0.1">StochD (3)</text>
<text x="1355.8" y="565" font-size="11" fill="#0000ff" font-weight="bold" text-anchor="start" letter-spacing="-0.12">StochK (14,3)</text>
</g>
<g id="logo">
<defs>
<linearGradient id="gTel" x1="0" y1="0" x2="0" y2="1"><stop offset="0" stop-color="#6c6a8c"/><stop offset="0.14" stop-color="#fff68c"/><stop offset="0.5" stop-color="#e6c608"/><stop offset="0.82" stop-color="#8a6a00"/><stop offset="1" stop-color="#4a3a00"/></linearGradient>
<linearGradient id="gArm" x1="0" y1="0" x2="1" y2="0"><stop offset="0" stop-color="#c09c00"/><stop offset="0.3" stop-color="#ffea48"/><stop offset="0.55" stop-color="#f2d218"/><stop offset="1" stop-color="#a88400"/></linearGradient>
<linearGradient id="gArc" x1="0" y1="0" x2="0" y2="1"><stop offset="0" stop-color="#fdec50"/><stop offset="0.5" stop-color="#efd31a"/><stop offset="0.85" stop-color="#c4a000"/><stop offset="1" stop-color="#6a5200"/></linearGradient>
</defs>
<path d="M12 21 L26.5 21 L28.5 24.5 L19 26.8 L9.5 24.5Z" fill="#f4f2ff" opacity="0.6"/>
<path d="M16.6 9.6 L9.6 22 M21.6 10.4 L28.4 23.4" stroke="#e8cc1c" stroke-width="1.6" fill="none"/>
<path d="M10.6 21 Q19 17.6 26.4 19.6" stroke="#f0da48" stroke-width="1.2" fill="none"/>
<path d="M23.6 10 q1.6 -1.4 3 0.2 l0.4 2.6 l-2.6 0.6z M24.4 12.6 L27.6 18.6 L25.8 19.6 L23 14z" fill="#dcbc14"/>
<circle cx="26.4" cy="17.2" r="1.5" fill="#f2da3a"/>
<path d="M3.6 24.6 A18.5 18.5 0 0 0 34.9 25.7 L31.5 22.2 A18.1 18.1 0 0 1 7 22.2 Z" fill="url(#gArc)"/>
<path d="M4.4 25.6 A18.5 18.5 0 0 0 34.2 26.6" stroke="#5a4600" stroke-width="0.9" stroke-dasharray="1 0.9" fill="none" opacity="0.75"/>
<rect x="4.1" y="11.3" width="11.4" height="5.5" rx="0.7" fill="url(#gTel)"/>
<path d="M17.4 7 L20.9 7 L20.9 22.2 L23.2 26.5 L23.8 32.9 Q19 36.4 13.9 32.9 L14.5 26.5 L16.9 22.2 Z" fill="url(#gArm)"/>
<path d="M14.6 27.2 Q19 28.8 23.2 27.2" stroke="#fff6a0" stroke-width="0.8" fill="none" opacity="0.8"/>
<path d="M15.6 30.6 h6.6" stroke="#fff8b0" stroke-width="0.9" opacity="0.55"/>
<path d="M15.7 6.3 Q19.2 4.6 22.8 6.3 Q19.2 8.6 15.7 6.3Z" fill="#d8b80e"/>
<path d="M17.2 5.6 Q17.2 3.4 19 2.8 Q21.4 3.4 21.6 5.6 Q19.3 6.6 17.2 5.6Z" fill="#f2da2c"/>
<ellipse cx="18.8" cy="4" rx="0.9" ry="0.7" fill="#fff690"/>
<path d="M16 7.2 Q19.2 8.9 22.6 7" stroke="#7a5e00" stroke-width="0.8" fill="none"/>
<path d="M23.6 32.9 h2 M26.2 32 v3" stroke="#e0c018" stroke-width="1.6" fill="none"/>
</g>
<!--LOGO_PLACED-->
</svg>
</body>
</html>
